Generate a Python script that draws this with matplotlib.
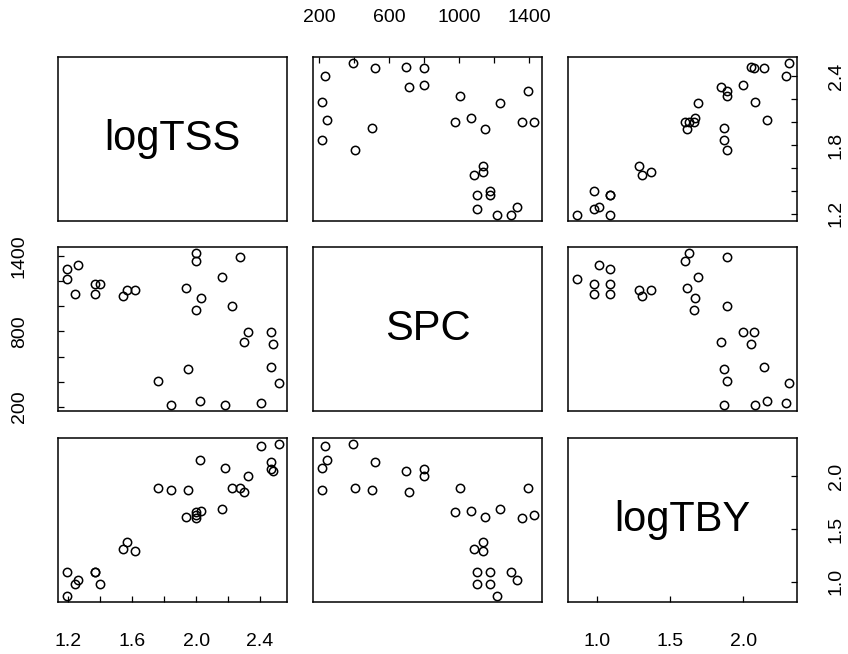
import numpy as np
import matplotlib
matplotlib.use("Agg")
from matplotlib import pyplot as plt

plt.rcParams['font.family'] = ['Liberation Sans', 'DejaVu Sans']

names = ["logTSS", "SPC", "logTBY"]

log_tss = [1.190, 1.190, 1.261, 1.240, 1.366, 1.399, 1.366, 1.539, 1.566, 1.616,
           1.758, 1.844, 1.936, 1.946, 1.999, 1.999, 1.999, 2.021, 2.032, 2.162,
           2.178, 2.226, 2.275, 2.302, 2.325, 2.404, 2.469, 2.479, 2.469, 2.517]
spc = [1294, 1214, 1331, 1102, 1175, 1175, 1102, 1086, 1134, 1134,
       406, 214, 1150, 504, 1427, 1360, 974, 243, 1070, 1232,
       214, 1006, 1395, 715, 798, 230, 798, 696, 520, 390]
log_tby = [1.093, 0.863, 1.016, 0.978, 1.093, 0.978, 1.093, 1.306, 1.372, 1.287,
           1.885, 1.866, 1.618, 1.866, 1.630, 1.603, 1.662, 2.160, 1.670, 1.692,
           2.079, 1.885, 1.885, 1.847, 2.000, 2.289, 2.069, 2.050, 2.140, 2.310]

# tick positions and which of them get a label
tick_pos = {
    "logTSS": [1.2, 1.4, 1.6, 1.8, 2.0, 2.2, 2.4],
    "SPC": [200, 400, 600, 800, 1000, 1200, 1400],
    "logTBY": [1.0, 1.5, 2.0],
}
tick_lab_x = {
    "logTSS": ["1.2", "", "1.6", "", "2.0", "", "2.4"],
    "SPC": ["200", "", "600", "", "1000", "", "1400"],
    "logTBY": ["1.0", "1.5", "2.0"],
}
tick_lab_y = {
    "logTSS": ["1.2", "", "", "1.8", "", "", "2.4"],
    "SPC": ["200", "", "", "800", "", "", "1400"],
    "logTBY": ["1.0", "1.5", "2.0"],
}

data = {"logTSS": np.array(log_tss), "SPC": np.array(spc), "logTBY": np.array(log_tby)}

def lims(v):
    r = v.max() - v.min()
    return v.min() - 0.04 * r, v.max() + 0.04 * r

W, H = 848, 654
fig = plt.figure(figsize=(W / 100, H / 100), dpi=100)

col_left = [58.3, 313.3, 568.3]
row_top = [56.7, 246.7, 437.7]
pw, ph = 229, 164.3

for i, yn in enumerate(names):
    for j, xn in enumerate(names):
        ax = fig.add_axes([col_left[j] / W, 1 - (row_top[i] + ph) / H, pw / W, ph / H])
        ax.set_xlim(lims(data[xn]))
        ax.set_ylim(lims(data[yn]))
        for s in ax.spines.values():
            s.set_linewidth(1.1)
        ax.set_xticks([])
        ax.set_yticks([])
        if i == j:
            ax.text(0.5, 0.5, yn, transform=ax.transAxes, ha="center", va="center", fontsize=30)
        else:
            ax.plot(data[xn], data[yn], "o", mfc="none", mec="black", ms=6, mew=1.1)

        ax.tick_params(direction="in", length=4.5, width=0.9, labelsize=14, pad=22)
        # x axis: bottom for columns 1 and 3, top for column 2
        if (i == 2 and j in (0, 2)) or (i == 0 and j == 1):
            ax.set_xticks(tick_pos[xn])
            ax.set_xticklabels(tick_lab_x[xn])
            if i == 0:
                ax.xaxis.tick_top()
        # y axis: left for row 2, right for rows 1 and 3
        if (j == 0 and i == 1) or (j == 2 and i in (0, 2)):
            ax.set_yticks(tick_pos[yn])
            ax.set_yticklabels(tick_lab_y[yn], rotation=90, va="center")
            if j == 2:
                ax.yaxis.tick_right()

fig.savefig("out.png", dpi=100)
